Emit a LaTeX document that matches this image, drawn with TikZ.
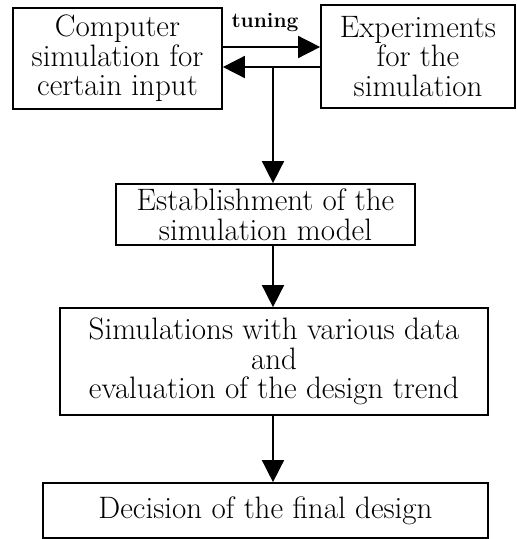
\documentclass[tikz,border=0pt]{standalone}
\usetikzlibrary{arrows.meta}
\begin{document}
\begin{tikzpicture}[x=1pt,y=-1pt,
  box/.style={draw,line width=1.7pt,align=center,inner sep=0pt,
    font=\fontsize{31}{29.5}\selectfont},
  flow/.style={line width=1.6pt,-{Triangle[length=22pt,width=22pt]}}]
\useasboundingbox (0,0) rectangle (517,539);
\node[box,minimum width=209pt,minimum height=101pt] (comp) at (117.5,58.5)
  {Computer\\simulation for\\certain input};
\node[box,minimum width=194pt,minimum height=103pt] (exp) at (418,56.5)
  {Experiments\\for the\\simulation};
\node[box,minimum width=299pt,minimum height=61pt] (est) at (265.5,214.5)
  {Establishment of the\\simulation model};
\node[box,minimum width=428pt,minimum height=107pt] (sim) at (274,361.5)
  {Simulations with various data\\and\\evaluation of the design trend};
\node[box,minimum width=445pt,minimum height=55pt] (dec) at (265.5,510.5)
  {Decision of the f{}inal design};
% tuning loop between simulation and experiment
\coordinate (ta) at (comp.east |- 0,47);
\coordinate (tb) at (exp.west |- 0,47);
\coordinate (ra) at (exp.west |- 0,67);
\coordinate (rb) at (comp.east |- 0,67);
\coordinate (split) at (273,67);
\draw[flow] (ta) -- (tb);
\draw[flow] (ra) -- (rb);
\node[font=\bfseries\fontsize{21}{23}\selectfont,inner sep=0pt] (tune) at (265,22) {tuning};
% main flow downward
\draw[flow] (split) -- (split |- est.north);
\draw[flow] (est.south -| 273,0) -- (sim.north -| 273,0);
\draw[flow] (sim.south -| 273,0) -- (dec.north -| 273,0);
\end{tikzpicture}
\end{document}
